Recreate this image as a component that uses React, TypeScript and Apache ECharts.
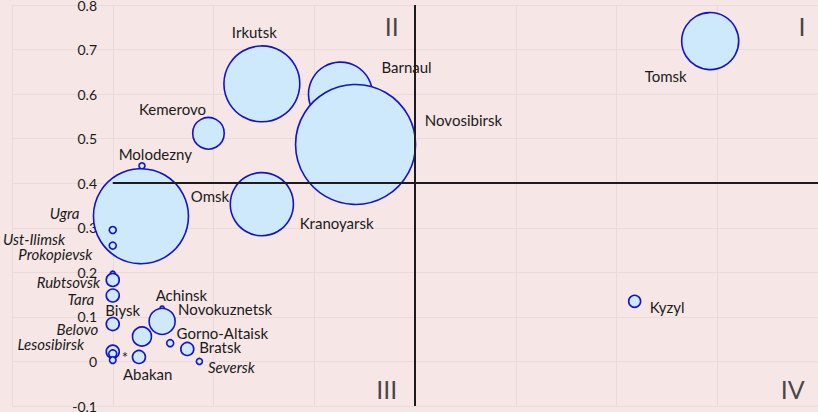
import React, { useEffect, useRef } from "react";
import * as echarts from "echarts";

// ---- data ----
const CITIES = [
  "Tomsk", "Irkutsk", "Barnaul", "Novosibirsk", "Kemerovo", "Molodezny", "Omsk", "Kranoyarsk",
  "Ugra", "Ust-Ilimsk", "Prokopievsk", "Rubtsovsk", "Tara", "Belovo", "Lesosibirsk", "*", "",
  "Abakan", "Biysk", "Achinsk", "Novokuznetsk", "Gorno-Altaisk", "Bratsk", "Seversk", "Kyzyl",
];
const X_VALUES = [
  5.93, 1.48, 2.26, 2.41, 0.95, 0.29, 0.28, 1.48,
  0.0, 0.0, 0.0, 0.0, 0.0, 0.0, 0.0, 0.0, 0.0,
  0.26, 0.29, 0.49, 0.49, 0.57, 0.74, 0.86, 5.18,
];
const Y_VALUES = [
  0.719, 0.623, 0.6, 0.487, 0.512, 0.439, 0.326, 0.353,
  0.295, 0.26, 0.197, 0.183, 0.148, 0.084, 0.022, 0.017, 0.003,
  0.01, 0.056, 0.12, 0.09, 0.041, 0.028, 0.0, 0.135,
];
const BUBBLE_SIZES = [
  22.6, 40, 28.4, 100, 6.9, 0.25, 62.7, 27.7,
  0.34, 0.34, 0.17, 1.17, 1.17, 1.17, 1.17, 0.44, 0.3,
  1.17, 2.5, 0.11, 4.7, 0.34, 1.17, 0.25, 1.0,
];
const ITALIC_CITIES = ["Ugra", "Ust-Ilimsk", "Prokopievsk", "Rubtsovsk", "Tara", "Belovo", "Lesosibirsk", "Seversk"];

const QUADRANT_NAMES = ["I", "II", "III", "IV"];
const QUADRANT_X = [6.84, 2.77, 2.72, 6.75];
const QUADRANT_Y = [0.753, 0.753, -0.061, -0.061];
const DIVIDER_X = 3;
const DIVIDER_Y = 0.4;

const X_MIN = -1, X_MAX = 7, X_STEP = 1;
const Y_MIN = -0.1, Y_MAX = 0.8, Y_STEP = 0.1;

// ---- layout / style ----
const MAX_DIAMETER = 120;
const LABEL_LAYOUT: Record<string, [number, number, string]> = {
  Tomsk: [-23.5, 34.7, "right"],
  Irkutsk: [-7.5, -51.4, "center"],
  Barnaul: [41, -27.3, "left"],
  Novosibirsk: [69.3, -24.7, "left"],
  Kemerovo: [-36, -24.3, "center"],
  Molodezny: [13.3, -11.7, "center"],
  Omsk: [88.2, -19.8, "right"],
  Kranoyarsk: [37.8, 19, "left"],
  Ugra: [-33.4, -17, "right"],
  "Ust-Ilimsk": [-47.7, -6.7, "right"],
  Prokopievsk: [-20.4, -19.7, "right"],
  Rubtsovsk: [-12.7, 1.7, "right"],
  Tara: [-18.7, 3.6, "right"],
  Belovo: [-14.4, 4.7, "right"],
  Lesosibirsk: [-28.7, -7.7, "right"],
  "*": [12.3, 3.3, "center"],
  "": [0, 0, "center"],
  Abakan: [8.7, 16.7, "center"],
  Biysk: [-19.3, -26.7, "center"],
  Achinsk: [19.3, -12.6, "center"],
  Novokuznetsk: [16, -12.7, "left"],
  "Gorno-Altaisk": [6.4, -10.6, "left"],
  Bratsk: [12, -1.7, "left"],
  Seversk: [8.6, 6, "left"],
  Kyzyl: [15, 5.6, "left"],
};

const FONT = "Lato, 'Open Sans', sans-serif";
const BG = "#f6e6e6";
const GRID_LINE = "#eadada";
const FILL = "#cde9fb";
const STROKE = "#1414c4";
const TEXT = "#1a1a1a";

export default function App() {
  const ref = useRef<HTMLDivElement>(null);

  useEffect(() => {
    if (!ref.current) return;
    const chart = echarts.init(ref.current, undefined, { renderer: "svg" });

    const bubbleData = CITIES.map((name, i) => {
      const lay = LABEL_LAYOUT[name] || [0, 0, "center"];
      return {
        name,
        value: [X_VALUES[i], Y_VALUES[i], BUBBLE_SIZES[i]],
        label: {
          offset: [lay[0], lay[1]],
          align: lay[2],
          fontStyle: ITALIC_CITIES.includes(name) ? "italic" : "normal",
        },
      };
    });

    const quadrantData = QUADRANT_NAMES.map((n, i) => ({
      name: n,
      value: [QUADRANT_X[i], QUADRANT_Y[i]],
    }));

    chart.setOption({
      animation: false,
      backgroundColor: BG,
      textStyle: { fontFamily: FONT },
      grid: { left: 12, right: 0, top: 5, bottom: 6, containLabel: false, outerBoundsMode: "none" },
      xAxis: {
        type: "value",
        min: X_MIN,
        max: X_MAX,
        interval: X_STEP,
        axisLabel: { show: false },
        axisLine: { show: false, onZero: false },
        axisTick: { show: false },
        splitLine: { show: true, lineStyle: { color: GRID_LINE, width: 1 } },
      },
      yAxis: {
        type: "value",
        min: Y_MIN,
        max: Y_MAX,
        interval: Y_STEP,
        axisLine: { show: false, onZero: false },
        axisTick: { show: false },
        axisLabel: {
          fontSize: 14,
          color: TEXT,
          margin: -85,
          fontFamily: FONT,
          formatter: (v: number) => String(Math.round(v * 10) / 10),
        },
        splitLine: { show: true, lineStyle: { color: GRID_LINE, width: 1 } },
      },
      series: [
        {
          type: "scatter",
          z: 2,
          data: bubbleData,
          symbol: "circle",
          symbolSize: (val: number[]) => MAX_DIAMETER * Math.sqrt(val[2] / 100),
          itemStyle: { color: FILL, borderColor: STROKE, borderWidth: 1.6, opacity: 1 },
          emphasis: { disabled: true },
          label: {
            show: true,
            position: "inside",
            formatter: "{b}",
            fontSize: 15,
            color: TEXT,
            fontFamily: FONT,
            verticalAlign: "middle",
          },
        },
        {
          type: "scatter",
          z: 5,
          data: quadrantData,
          symbolSize: 0,
          silent: true,
          label: {
            show: true,
            position: "inside",
            formatter: "{b}",
            fontSize: 25,
            color: TEXT,
            fontFamily: FONT,
          },
          markLine: {
            silent: true,
            symbol: "none",
            label: { show: false },
            lineStyle: { color: "#1c1c1c", width: 2, type: "solid" },
            data: [
              [{ coord: [DIVIDER_X, Y_MIN] }, { coord: [DIVIDER_X, Y_MAX] }],
              [{ coord: [0, DIVIDER_Y] }, { coord: [X_MAX, DIVIDER_Y] }],
            ],
          },
        },
      ],
    });

    return () => chart.dispose();
  }, []);

  return (
    <div
      ref={ref}
      style={{ position: "fixed", left: 0, top: 0, width: 818, height: 412 }}
    />
  );
}
